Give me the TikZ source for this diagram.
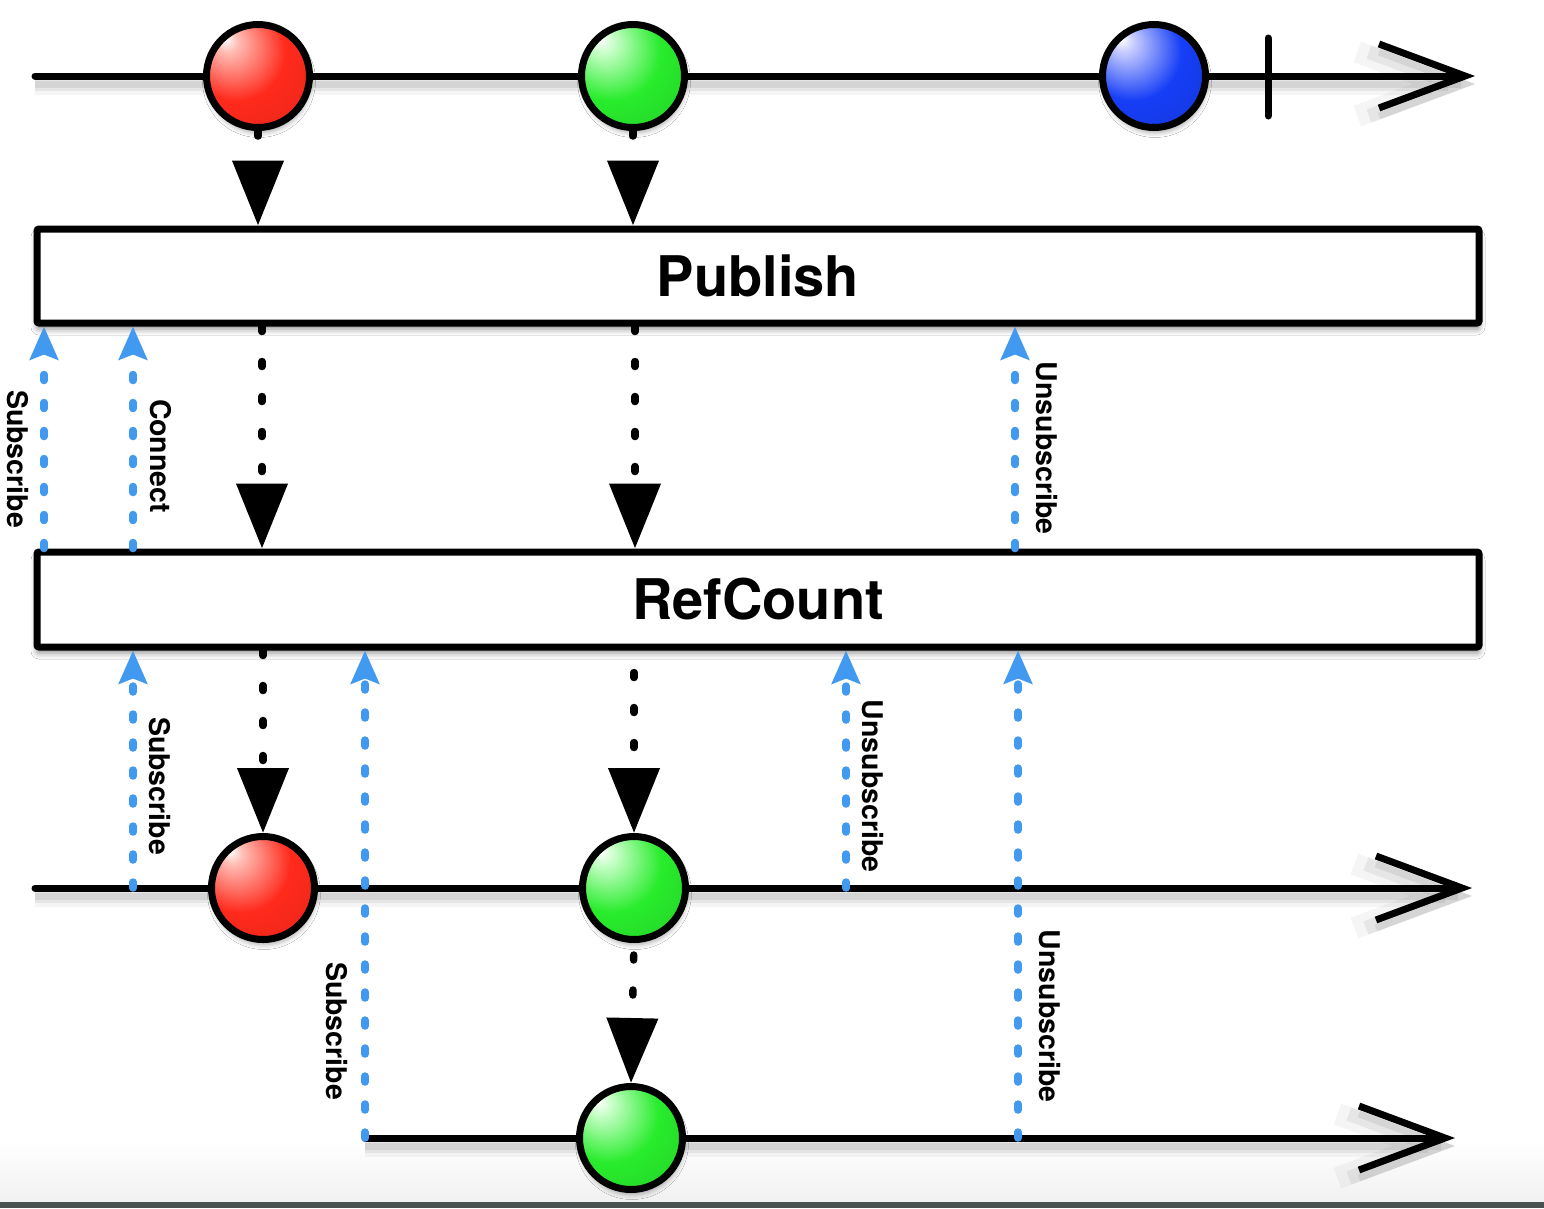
\documentclass[tikz,border=0pt]{standalone}
\usepackage{fontspec}
\setmainfont{TeX Gyre Heros}
\usetikzlibrary{arrows.meta,shadows.blur}

\definecolor{subblue}{RGB}{66,153,240}
\definecolor{bandgrey}{RGB}{74,80,80}
% marble palettes
\definecolor{redhi}{RGB}{255,190,182}
\definecolor{redmain}{RGB}{255,42,28}
\definecolor{reddark}{RGB}{140,12,6}
\definecolor{greenhi}{RGB}{205,255,205}
\definecolor{greenmain}{RGB}{40,236,44}
\definecolor{greendark}{RGB}{16,110,16}
\definecolor{bluehi}{RGB}{200,205,255}
\definecolor{bluemain}{RGB}{22,62,246}
\definecolor{bluedark}{RGB}{10,20,130}

\pgfdeclareradialshading{marblered}{\pgfpoint{-16bp}{18bp}}{%
  color(0bp)=(white); color(5bp)=(redhi); color(24bp)=(redmain);
  color(46bp)=(redmain!90!black); color(72bp)=(reddark)}
\pgfdeclareradialshading{marblegreen}{\pgfpoint{-16bp}{18bp}}{%
  color(0bp)=(white); color(5bp)=(greenhi); color(24bp)=(greenmain);
  color(46bp)=(greenmain!88!black); color(72bp)=(greendark)}
\pgfdeclareradialshading{marbleblue}{\pgfpoint{-16bp}{18bp}}{%
  color(0bp)=(white); color(5bp)=(bluehi); color(24bp)=(bluemain);
  color(46bp)=(bluemain!88!black); color(72bp)=(bluedark)}

\tikzset{
  lshadow/.style={
    preaction={draw=black,opacity=0.04,line width=22pt,transform canvas={yshift=-8pt}},
    preaction={draw=black,opacity=0.06,line width=14pt,transform canvas={yshift=-8pt}},
    preaction={draw=black,opacity=0.07,line width=7pt,transform canvas={yshift=-8pt}}},
  timeline/.style={line width=7pt,line cap=round,lshadow,
    -{Straight Barb[length=86pt,width=64pt]}},
  tickmark/.style={line width=7pt,line cap=round},
  marble/.style={circle,draw=black,line width=7pt,minimum size=103pt,inner sep=0pt,
    blur shadow={shadow xshift=1pt,shadow yshift=-5pt,shadow blur radius=5pt,shadow opacity=35}},
  opbox/.style={draw=black,fill=white,line width=7pt,rounded corners=2pt,
    minimum width=1442pt,inner sep=0pt,
    font=\fontsize{56}{60}\selectfont\bfseries,
    blur shadow={shadow xshift=0pt,shadow yshift=-6pt,shadow blur radius=6pt,shadow opacity=45}},
  evarrow/.style={line width=7.5pt,line cap=round,dash pattern=on 5pt off 30pt,
    -{Triangle[length=65pt,width=50pt]}},
  subarrow/.style={draw=subblue,line width=7.5pt,line cap=round,dash pattern=on 6pt off 22pt,
    -{Stealth[length=33pt,width=28pt,inset=5pt]}},
  lbl/.style={rotate=-90,inner sep=0pt,font=\fontsize{28.5}{31}\selectfont\bfseries},
}

\begin{document}
\begin{tikzpicture}[x=1pt,y=-1pt]
\useasboundingbox (0,0) rectangle (1544,1208);
\fill[white] (0,0) rectangle (1544,1208);
% page band at the foot
\fill[top color=white,bottom color=gray!11] (0,1140) rectangle (1544,1202);
\fill[bandgrey] (0,1202) rectangle (1544,1208);

% timeline end points
\coordinate (t0) at (35,76);   \coordinate (t1) at (1475,76);
\coordinate (m0) at (35,888);  \coordinate (m1) at (1472,888);
\coordinate (s0) at (365,1138); \coordinate (s1) at (1455,1138);
\coordinate (tk0) at (1268,38); \coordinate (tk1) at (1268,116);

% x positions of the vertical connectors
\coordinate (xp1) at (262,0);  \coordinate (xp2) at (635,0);
\coordinate (xa) at (44,0);    \coordinate (xb) at (133,0);
\coordinate (xc) at (1015,0);  \coordinate (xd) at (846,0);
\coordinate (xe) at (1018,0);

% timelines
\draw[timeline] (t0) -- (t1);
\draw[tickmark] (tk0) -- (tk1);
\draw[timeline] (m0) -- (m1);
\draw[timeline] (s0) -- (s1);

% marbles
\node[marble,shading=marblered]   (r1) at (258,76) {};
\node[marble,shading=marblegreen] (g1) at (633,76) {};
\node[marble,shading=marbleblue]  (b1) at (1154,76) {};
\node[marble,shading=marblered]   (r2) at (263,888) {};
\node[marble,shading=marblegreen] (g2) at (634,888) {};
\node[marble,shading=marblegreen] (g3) at (631,1138) {};

% operators
\node[opbox,minimum height=94pt] (pub) at (758,276) {Publish};
\node[opbox,minimum height=95pt] (rc)  at (758,599.5) {RefCount};

% emissions
\draw[evarrow] (r1.south) -- (r1 |- pub.north);
\draw[evarrow] (g1.south) -- (g1 |- pub.north);
\draw[evarrow] (xp1 |- pub.south) -- (xp1 |- rc.north);
\draw[evarrow] (xp2 |- pub.south) -- (xp2 |- rc.north);
\draw[evarrow] (r2 |- rc.south) -- (r2.north);
\draw[evarrow,dash phase=13pt] (g2 |- rc.south) -- (g2.north);
\draw[evarrow,dash phase=23pt] (g2.south) -- (g3.north);

% subscriptions
\draw[subarrow] (xa |- rc.north) -- (xa |- pub.south);
\draw[subarrow] (xb |- rc.north) -- (xb |- pub.south);
\draw[subarrow] (xc |- rc.north) -- (xc |- pub.south);
\draw[subarrow] (xb |- m0) -- (xb |- rc.south);
\draw[subarrow] (s0) -- (s0 |- rc.south);
\draw[subarrow] (xd |- m0) -- (xd |- rc.south);
\draw[subarrow] (xe |- s0) -- (xe |- rc.south);

% labels
\node[lbl] (l1) at (18,459)   {Subscribe};
\node[lbl] (l2) at (161,456)  {Connect};
\node[lbl] (l3) at (1047,448) {Unsubscribe};
\node[lbl] (l4) at (160,786)  {Subscribe};
\node[lbl] (l5) at (337,1031) {Subscribe};
\node[lbl] (l6) at (873,786)  {Unsubscribe};
\node[lbl] (l7) at (1050,1016) {Unsubscribe};
\end{tikzpicture}
\end{document}
